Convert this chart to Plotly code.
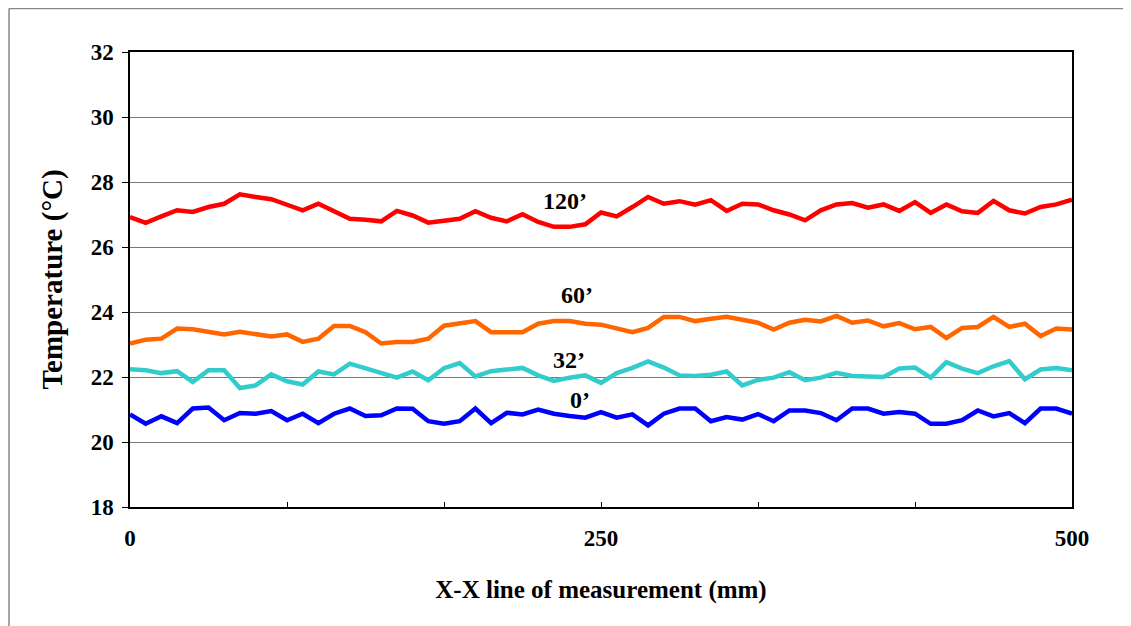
import plotly.graph_objects as go

# 61 measurement points along the X-X line, 0..500 mm
n_points = 61
x_mm = [i * 500 / 60 for i in range(n_points)]

t120 = [26.92, 26.74, 26.94, 27.13, 27.08, 27.23, 27.33, 27.62, 27.54, 27.47,
        27.30, 27.13, 27.33, 27.11, 26.87, 26.84, 26.79, 27.11, 26.97, 26.75,
        26.82, 26.87, 27.10, 26.90, 26.79, 27.01, 26.77, 26.62, 26.62, 26.70,
        27.06, 26.94, 27.23, 27.54, 27.33, 27.41, 27.30, 27.44, 27.11, 27.33,
        27.31, 27.13, 27.00, 26.82, 27.13, 27.31, 27.35, 27.21, 27.31, 27.11,
        27.38, 27.05, 27.31, 27.10, 27.05, 27.42, 27.13, 27.03, 27.23, 27.31,
        27.46]

t60 = [23.03, 23.15, 23.18, 23.49, 23.47, 23.39, 23.31, 23.39, 23.31, 23.25,
       23.31, 23.08, 23.18, 23.57, 23.57, 23.38, 23.03, 23.08, 23.08, 23.18,
       23.58, 23.64, 23.72, 23.38, 23.38, 23.38, 23.64, 23.72, 23.72, 23.64,
       23.61, 23.51, 23.38, 23.51, 23.85, 23.85, 23.72, 23.79, 23.85, 23.76,
       23.67, 23.46, 23.67, 23.76, 23.71, 23.88, 23.67, 23.74, 23.56, 23.66,
       23.47, 23.54, 23.20, 23.51, 23.54, 23.85, 23.54, 23.64, 23.26, 23.49,
       23.46]

t32 = [22.24, 22.21, 22.12, 22.18, 21.85, 22.21, 22.21, 21.66, 21.74, 22.08,
       21.87, 21.77, 22.17, 22.08, 22.41, 22.26, 22.10, 21.98, 22.17, 21.90,
       22.27, 22.43, 22.02, 22.18, 22.23, 22.28, 22.05, 21.88, 21.98, 22.05,
       21.82, 22.12, 22.28, 22.48, 22.29, 22.05, 22.03, 22.07, 22.17, 21.74,
       21.91, 21.98, 22.15, 21.90, 21.98, 22.13, 22.03, 22.02, 22.00, 22.26,
       22.29, 21.98, 22.46, 22.26, 22.12, 22.33, 22.49, 21.93, 22.23, 22.28,
       22.21]

t0 = [20.85, 20.56, 20.79, 20.58, 21.03, 21.06, 20.67, 20.89, 20.87, 20.95,
      20.67, 20.87, 20.58, 20.87, 21.03, 20.80, 20.82, 21.03, 21.02, 20.64,
      20.56, 20.64, 21.03, 20.58, 20.90, 20.85, 21.00, 20.87, 20.80, 20.75,
      20.92, 20.75, 20.85, 20.51, 20.87, 21.03, 21.03, 20.64, 20.77, 20.69,
      20.86, 20.64, 20.97, 20.97, 20.89, 20.67, 21.03, 21.03, 20.87, 20.92,
      20.87, 20.56, 20.56, 20.67, 20.97, 20.79, 20.89, 20.58, 21.03, 21.03,
      20.87]

series = [
    ("120\u2019", t120, "#FF0000", 231, 27.41),
    ("60\u2019", t60, "#FF6600", 237, 24.53),
    ("32\u2019", t32, "#33CCCC", 233, 22.53),
    ("0\u2019", t0, "#0000FF", 239, 21.30),
]

y_ticks = [18, 20, 22, 24, 26, 28, 30, 32]
x_ticks = [0, 250, 500]
x_minor = [500 / 6, 1000 / 6, 2000 / 6, 2500 / 6]

FONT = "Liberation Serif"

# page body has an 8px margin, so plot-area pixel targets are shifted by -8
L, R, T, B = 122, 1064, 44, 499.3
W, H = 1131, 626

fig = go.Figure()
for name, vals, color, lx, ly in series:
    fig.add_trace(go.Scatter(x=x_mm, y=vals, mode="lines", name=name,
                             line=dict(color=color, width=4.5)))
    fig.add_annotation(x=lx, y=ly, text="<b>" + name + "</b>", showarrow=False,
                       font=dict(family=FONT, size=24, color="black"))

fig.update_layout(
    width=W, height=H,
    margin=dict(l=L, r=W - R, t=T, b=H - B),
    paper_bgcolor="white", plot_bgcolor="white",
    showlegend=False,
    font=dict(family=FONT, color="black"),
)

fig.update_xaxes(
    range=[0, 500], tickvals=x_ticks, ticktext=["<b>%d</b>" % v for v in x_ticks],
    ticks="inside", ticklen=5, tickcolor="black",
    minor=dict(tickvals=x_minor, ticks="inside", ticklen=5, tickcolor="black"),
    showline=True, linecolor="black", linewidth=1.5, mirror=True,
    showgrid=False, zeroline=False,
    tickfont=dict(family=FONT, size=23, color="black"),
    ticklabelstandoff=10,
    title=dict(text="<b>X-X line of measurement (mm)</b>",
               font=dict(family=FONT, size=25, color="black"), standoff=30),
)

fig.update_yaxes(
    range=[18, 32], tickvals=y_ticks, ticktext=["<b>%d</b>" % v for v in y_ticks],
    ticks="outside", ticklen=6, tickcolor="black",
    showline=True, linecolor="black", linewidth=1.5, mirror=True,
    showgrid=True, gridcolor="#777777", gridwidth=1.3, zeroline=False,
    tickfont=dict(family=FONT, size=23, color="black"),
    ticklabelstandoff=4,
    title=dict(text="<b>Temperature (\u00b0C)</b>",
               font=dict(family=FONT, size=29, color="black"), standoff=20),
)

# outer chart border (left and top edges visible in the reference)
pw, ph = R - L, B - T
bx = (1 - L) / pw
by = (B - 0.5) / ph
fig.add_shape(type="line", xref="paper", yref="paper",
              x0=bx, x1=(W + 20 - L) / pw, y0=by, y1=by,
              line=dict(color="#888888", width=1.5))
fig.add_shape(type="line", xref="paper", yref="paper",
              x0=bx, x1=bx, y0=by, y1=(B - H - 20) / ph,
              line=dict(color="#888888", width=1.5))

fig.write_html("out.html")
